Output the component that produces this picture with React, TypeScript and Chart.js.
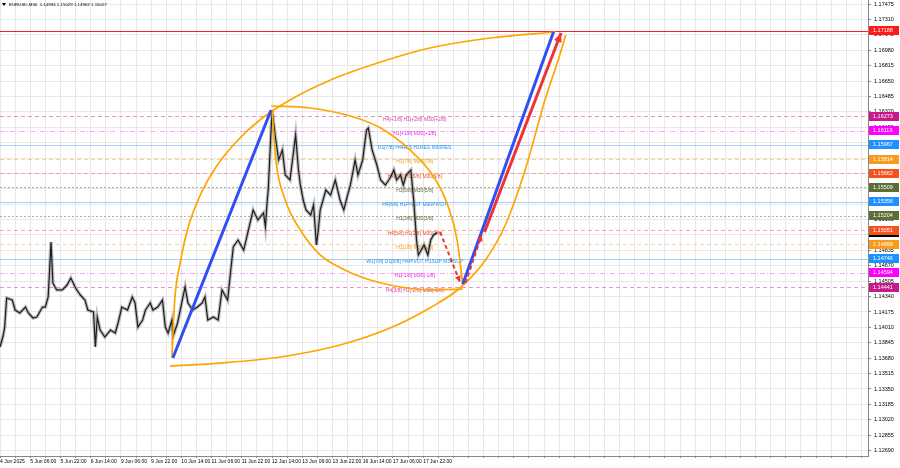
import React, { useEffect, useRef } from 'react';
import { Chart, registerables } from 'chart.js';

Chart.register(...registerables);

// ---------- data ----------
const headerText = 'EURUSD,M30  1.14994 1.15029 1.14963 1.15027';

const timeLabels = [
  '4 Jun 2025', '5 Jun 06:00', '5 Jun 22:00', '6 Jun 14:00', '9 Jun 06:00',
  '9 Jun 22:00', '10 Jun 14:00', '11 Jun 06:00', '11 Jun 22:00', '12 Jun 14:00',
  '13 Jun 06:00', '13 Jun 22:00', '16 Jun 14:00', '17 Jun 06:00', '17 Jun 22:00',
];

const yTicks = [
  1.17475, 1.1731, 1.17145, 1.1698, 1.16815, 1.1665, 1.16485, 1.1632, 1.16155, 1.1599,
  1.15825, 1.1566, 1.15495, 1.1533, 1.15165, 1.15, 1.14835, 1.1467, 1.14505, 1.1434,
  1.14175, 1.1401, 1.13845, 1.1368, 1.13515, 1.1335, 1.13185, 1.1302, 1.12855, 1.1269,
];

// M30 bar index (from the first visible bar) and close prices
const priceBars = [
  0, 3, 5, 7, 13, 16, 21, 27, 30, 35, 39, 45, 48, 51, 54, 56, 60, 66, 71, 75, 80, 85, 90, 93, 99,
  101, 103, 106, 111, 117, 122, 125, 129, 135, 140, 143, 146, 151, 154, 159, 162, 167, 172, 175, 178,
  182, 183, 188, 193, 196, 199, 204, 209, 214, 217, 220, 226, 231, 235, 241, 244, 247, 252, 258, 263,
  268, 273, 279, 281, 283, 284, 286, 288, 292, 295, 299, 302, 307, 311, 313, 316, 318, 321, 324, 329,
  332, 335, 337, 339, 345, 350, 355, 360, 364, 368, 371, 376, 379, 384, 388, 390, 394, 399, 403, 408,
  413, 417, 420, 424, 427, 430, 435, 438, 441, 443, 446, 449, 453, 456, 459, 463,
];
const priceCloses = [
  1.138, 1.13907, 1.14014, 1.14325, 1.14303, 1.14196, 1.14164, 1.14228, 1.14164, 1.14111, 1.14121,
  1.14228, 1.14228, 1.14336, 1.14925, 1.14486, 1.14411, 1.14411, 1.14464, 1.14539, 1.14432, 1.14357,
  1.14303, 1.14196, 1.14175, 1.138, 1.14121, 1.13982, 1.13907, 1.13982, 1.1395, 1.14057, 1.14228,
  1.14196, 1.14336, 1.14271, 1.14014, 1.14089, 1.14196, 1.14271, 1.14196, 1.14228, 1.14303, 1.14014,
  1.1395, 1.14089, 1.13907, 1.14057, 1.14303, 1.14443, 1.14271, 1.14196, 1.14228, 1.14271, 1.14336,
  1.14089, 1.14121, 1.14089, 1.14411, 1.14303, 1.14593, 1.14871, 1.14946, 1.14839, 1.15053, 1.15268,
  1.15161, 1.15236, 1.15086, 1.15375, 1.15482, 1.15911, 1.16339, 1.16018, 1.15804, 1.15911, 1.15643,
  1.15589, 1.15911, 1.16071, 1.15696, 1.15536, 1.15375, 1.15268, 1.15214, 1.15321, 1.14893, 1.15053,
  1.15268, 1.15482, 1.15428, 1.15589, 1.15375, 1.15268, 1.15428, 1.15536, 1.15804, 1.15643, 1.15804,
  1.16125, 1.16146, 1.15911, 1.1575, 1.15589, 1.15536, 1.15611, 1.15696, 1.15589, 1.15643, 1.15536,
  1.15643, 1.15696, 1.15375, 1.14946, 1.14786, 1.14839, 1.14893, 1.14786, 1.14946, 1.15, 1.15027,
];

// Murrey-math style levels
const levelPrices = [
  1.16273, 1.16119, 1.15967, 1.15814, 1.15662, 1.15509, 1.15356, 1.15204, 1.15051, 1.14899, 1.14746,
  1.14594, 1.14441,
];
const levelTexts = [
  'H4[+1/8] H1[+2/8] M30[+2/8]',
  'H1[+1/8] M30[+1/8]',
  'D1[7/8] H4RES H1RES M30RES',
  'H1[7/8] M30[7/8]',
  'H4[7/8] H1[6/8] M30[6/8]',
  'H1[5/8] M30[5/8]',
  'H4[6/8] H1PIVOT M30PIVOT',
  'H1[3/8] M30[3/8]',
  'H4[5/8] H1[2/8] M30[2/8]',
  'H1[1/8] M30[1/8]',
  'W1[7/8] D1[6/8] H4PIVOT H1SUP M30SUP',
  'H1[-1/8] M30[-1/8]',
  'H4[3/8] H1[-2/8] M30[-2/8]',
];
const levelKinds = [
  'pink', 'magenta', 'blue', 'orange', 'orangered', 'olive', 'blue', 'olive', 'orangered', 'orange',
  'blue', 'magenta', 'pink',
];
const levelLabelBar = 439;

const targetPrice = 1.17188;
const lastPrice = 1.15027;

// drawn objects (bar, price)
const arcABars = [182, 185, 191, 199, 212, 228, 249, 275, 307, 350, 403, 455, 519, 588];
const arcAPrices = [
  1.13693, 1.14303, 1.14711, 1.15075, 1.15428, 1.15718, 1.15986, 1.16232, 1.16446, 1.16661, 1.16854,
  1.17004, 1.17111, 1.17175,
];
const arcBBars = [180, 233, 297, 360, 413, 455, 487, 514, 535, 556, 577, 591, 599];
const arcBPrices = [
  1.13596, 1.13628, 1.13693, 1.13821, 1.14003, 1.14218, 1.14432, 1.14732, 1.15107, 1.15696, 1.16446,
  1.16875, 1.17143,
];
const arcCBars = [287, 328, 371, 403, 434, 458, 474, 484, 490];
const arcCPrices = [1.16382, 1.16361, 1.16275, 1.16146, 1.15911, 1.15643, 1.15321, 1.14946, 1.14464];
const arcDBars = [288, 292, 302, 318, 339, 365, 392, 424, 455, 490];
const arcDPrices = [
  1.16339, 1.15804, 1.15375, 1.15053, 1.14786, 1.14625, 1.14518, 1.14443, 1.14411, 1.14421,
];
const blueUpBars = [183, 287];
const blueUpPrices = [1.13682, 1.16339];
const blueFutureBars = [490, 586];
const blueFuturePrices = [1.14475, 1.17175];
const redDownBars = [466, 487];
const redDownPrices = [1.15032, 1.14496];
const redReboundBars = [493, 510];
const redReboundPrices = [1.14486, 1.15];
const redTargetBars = [513, 594];
const redTargetPrices = [1.15032, 1.17164];

// ---------- styles ----------
const FONT = 'Liberation Sans, Arial, sans-serif';
const kindStyle: Record<string, { box: string; text: string; line: string; dash: number[] }> = {
  pink: { box: '#c8198a', text: '#d9439e', line: 'rgba(225,110,175,0.75)', dash: [4, 3] },
  magenta: { box: '#ff00ff', text: '#f020f0', line: 'rgba(250,120,250,0.65)', dash: [5, 2, 1, 2] },
  blue: { box: '#1e90ff', text: '#2a8ef0', line: 'rgba(110,175,240,0.6)', dash: [] },
  orange: { box: '#f99a1c', text: '#f59a20', line: 'rgba(250,175,90,0.6)', dash: [4, 3] },
  orangered: { box: '#f5531e', text: '#f0502a', line: 'rgba(250,120,90,0.6)', dash: [4, 3] },
  olive: { box: '#5d6e35', text: '#5a6b35', line: 'rgba(120,130,80,0.6)', dash: [2, 2] },
};

const pts = (xs: number[], ys: number[]) => xs.map((x, i) => ({ x, y: ys[i] }));

const orangeLine = (data: any) => ({
  data,
  borderColor: '#ffa500',
  borderWidth: 1.7,
  pointRadius: 0,
  cubicInterpolationMode: 'monotone',
  fill: false,
});

const overlayPlugin = {
  id: 'overlay',
  beforeDatasetsDraw(chart: any) {
    const { ctx, chartArea, scales } = chart;
    const xs = scales.x;
    const ys = scales.y;
    ctx.save();
    ctx.beginPath();
    ctx.rect(chartArea.left, chartArea.top, chartArea.right - chartArea.left, chartArea.bottom - chartArea.top);
    ctx.clip();
    levelPrices.forEach((p, i) => {
      const st = kindStyle[levelKinds[i]];
      const y = Math.round(ys.getPixelForValue(p)) + 0.5;
      ctx.strokeStyle = st.line;
      ctx.lineWidth = 1;
      ctx.setLineDash(st.dash);
      ctx.beginPath();
      ctx.moveTo(chartArea.left, y);
      ctx.lineTo(chartArea.right, y);
      ctx.stroke();
    });
    ctx.setLineDash([]);
    const ty = Math.round(ys.getPixelForValue(targetPrice)) + 0.5;
    ctx.strokeStyle = '#ff2020';
    ctx.lineWidth = 1;
    ctx.beginPath();
    ctx.moveTo(chartArea.left, ty);
    ctx.lineTo(chartArea.right, ty);
    ctx.stroke();
    ctx.font = `5px ${FONT}`;
    ctx.textAlign = 'center';
    ctx.textBaseline = 'middle';
    const lx = xs.getPixelForValue(levelLabelBar);
    levelPrices.forEach((p, i) => {
      const st = kindStyle[levelKinds[i]];
      ctx.fillStyle = st.text;
      ctx.fillText(levelTexts[i], lx, ys.getPixelForValue(p) + 3);
    });
    ctx.restore();
  },
  afterDatasetsDraw(chart: any) {
    const { ctx, chartArea } = chart;
    chart.data.datasets.forEach((ds: any, i: number) => {
      if (!ds.arrow) return;
      const meta = chart.getDatasetMeta(i);
      const n = meta.data.length;
      const a = meta.data[n - 2];
      const b = meta.data[n - 1];
      const ang = Math.atan2(b.y - a.y, b.x - a.x);
      const len = ds.arrowLen || 7;
      const w = ds.arrowW || 3.2;
      ctx.save();
      ctx.fillStyle = ds.borderColor;
      ctx.beginPath();
      ctx.moveTo(b.x, b.y);
      ctx.lineTo(b.x - len * Math.cos(ang) + w * Math.sin(ang), b.y - len * Math.sin(ang) - w * Math.cos(ang));
      ctx.lineTo(b.x - len * Math.cos(ang) - w * Math.sin(ang), b.y - len * Math.sin(ang) + w * Math.cos(ang));
      ctx.closePath();
      ctx.fill();
      ctx.restore();
    });
    ctx.save();
    ctx.fillStyle = '#000';
    ctx.font = `4.4px ${FONT}`;
    ctx.textAlign = 'left';
    ctx.textBaseline = 'middle';
    ctx.beginPath();
    ctx.moveTo(chartArea.left + 2, 3);
    ctx.lineTo(chartArea.left + 6, 3);
    ctx.lineTo(chartArea.left + 4, 6);
    ctx.closePath();
    ctx.fill();
    ctx.fillText(headerText, chartArea.left + 9, 5);
    ctx.restore();
  },
  afterDraw(chart: any) {
    const { ctx, chartArea, scales } = chart;
    const ys = scales.y;
    const bx = chartArea.right + 1;
    const box = (p: number, color: string) => {
      const y = ys.getPixelForValue(p);
      ctx.fillStyle = color;
      ctx.fillRect(bx, Math.round(y - 4.5), 30, 9);
      ctx.fillStyle = '#fff';
      ctx.font = `5.5px ${FONT}`;
      ctx.textAlign = 'left';
      ctx.textBaseline = 'middle';
      ctx.fillText(p.toFixed(5), bx + 4, Math.round(y - 4.5) + 4.7);
    };
    ctx.save();
    box(lastPrice, '#000');
    levelPrices.forEach((p, i) => box(p, kindStyle[levelKinds[i]].box));
    box(targetPrice, '#ff1a1a');
    ctx.restore();
  },
};

export default function App() {
  const ref = useRef<HTMLCanvasElement | null>(null);

  useEffect(() => {
    if (!ref.current) return;
    const chart = new Chart(ref.current, {
      type: 'line',
      data: {
        datasets: [
          { data: pts(redTargetBars, redTargetPrices), borderColor: '#f03232', borderWidth: 3, pointRadius: 0, arrow: true, arrowLen: 9, arrowW: 4 } as any,
          { data: pts(redDownBars, redDownPrices), borderColor: '#f03232', borderWidth: 2, borderDash: [4, 3], pointRadius: 0, arrow: true, arrowLen: 6, arrowW: 3 } as any,
          { data: pts(redReboundBars, redReboundPrices), borderColor: '#f03232', borderWidth: 2, borderDash: [4, 3], pointRadius: 0, arrow: true, arrowLen: 6, arrowW: 3 } as any,
          { data: pts(blueFutureBars, blueFuturePrices), borderColor: '#2f4ff0', borderWidth: 3, pointRadius: 0 } as any,
          { data: pts(blueUpBars, blueUpPrices), borderColor: '#2f4ff0', borderWidth: 3, pointRadius: 0 } as any,
          orangeLine(pts(arcABars, arcAPrices)) as any,
          orangeLine(pts(arcBBars, arcBPrices)) as any,
          orangeLine(pts(arcCBars, arcCPrices)) as any,
          orangeLine(pts(arcDBars, arcDPrices)) as any,
          { data: pts(priceBars, priceCloses), borderColor: '#1c1c1c', borderWidth: 1.2, pointRadius: 0, tension: 0 } as any,
          { data: pts(priceBars, priceCloses), borderColor: 'rgba(110,110,110,0.45)', borderWidth: 3.5, pointRadius: 0, tension: 0 } as any,
        ],
      },
      options: {
        responsive: false,
        animation: false,
        events: [],
        layout: { padding: 0 },
        plugins: { legend: { display: false }, tooltip: { enabled: false }, title: { display: false } },
        scales: {
          x: {
            type: 'linear',
            min: 0,
            max: 919,
            afterBuildTicks: (s: any) => {
              const t: any[] = [];
              for (let b = 0; b <= 919; b += 16) t.push({ value: b });
              s.ticks = t;
            },
            afterFit: (s: any) => {
              s.height = 12;
              s.paddingLeft = 0;
              s.paddingRight = 0;
            },
            ticks: {
              autoSkip: false,
              maxRotation: 0,
              minRotation: 0,
              align: 'start',
              padding: 1,
              color: '#000',
              font: { size: 5, family: FONT },
              callback: (v: any) => {
                const b = Number(v);
                if (b % 32 === 0 && b / 32 < timeLabels.length) return timeLabels[b / 32];
                return '';
              },
            },
            grid: { color: '#e8e8e8', lineWidth: 1, drawTicks: true, tickLength: 2, tickColor: '#888' },
            border: { display: true, color: '#888' },
          },
          y: {
            type: 'linear',
            position: 'right',
            min: 1.12632,
            max: 1.17518,
            afterBuildTicks: (s: any) => {
              s.ticks = yTicks.map((v) => ({ value: v }));
            },
            afterFit: (s: any) => {
              s.width = 32;
              s.paddingTop = 0;
              s.paddingBottom = 0;
            },
            ticks: {
              padding: 3,
              color: '#000',
              font: { size: 5.5, family: FONT },
              callback: (v: any) => Number(v).toFixed(5),
            },
            grid: { color: '#e8e8e8', lineWidth: 1, drawTicks: true, tickLength: 3, tickColor: '#888' },
            border: { display: true, color: '#888' },
          },
        },
      } as any,
      plugins: [overlayPlugin],
    });
    return () => chart.destroy();
  }, []);

  return (
    <div style={{ position: 'fixed', left: 0, top: 0, width: 900, height: 468, background: '#fff' }}>
      <canvas ref={ref} width={900} height={468} style={{ display: 'block' }} />
    </div>
  );
}
